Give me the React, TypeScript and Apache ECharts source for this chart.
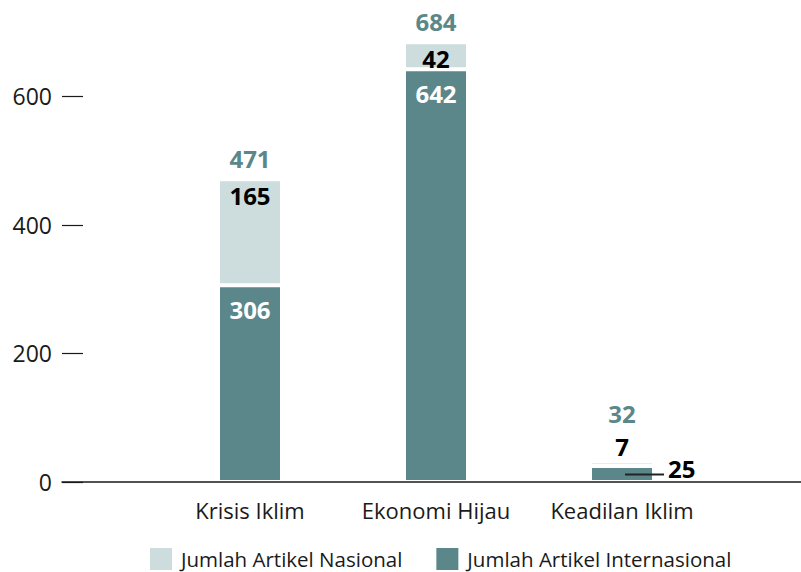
import React, { useEffect, useRef } from "react";
import * as echarts from "echarts";

const categories = ["Krisis Iklim", "Ekonomi Hijau", "Keadilan Iklim"];
const internasional = [306, 642, 25];
const nasional = [165, 42, 7];
const yTicks = [0, 200, 400, 600];
const legendNames = ["Jumlah Artikel Nasional", "Jumlah Artikel Internasional"];

const DARK = "#5b878b";
const LIGHT = "#cddcdd";
const INK = "#1a1a1a";
const FONT = "'Open Sans', 'Noto Sans', sans-serif";

export default function App() {
  const ref = useRef<HTMLDivElement>(null);

  useEffect(() => {
    if (!ref.current) return;
    const chart = echarts.init(ref.current, undefined, { renderer: "svg" });
    const totals = categories.map((_, i) => internasional[i] + nasional[i]);
    const lastIdx = categories.length - 1;

    const option: any = {
      animation: false,
      backgroundColor: "#ffffff",
      textStyle: { fontFamily: FONT },
      grid: [
        { left: 62, right: 0, top: 32, bottom: 90, containLabel: false },
        { left: 157, right: 86, top: 32, bottom: 90, containLabel: false },
      ],
      xAxis: [
        {
          gridIndex: 0,
          type: "value",
          min: 0,
          max: 1,
          z: 10,
          axisLine: { show: true, onZero: false, lineStyle: { color: INK, width: 1.5 } },
          axisTick: { show: false },
          axisLabel: { show: false },
          splitLine: { show: false },
        },
        {
          gridIndex: 1,
          type: "category",
          data: categories,
          axisLine: { show: false },
          axisTick: { show: false },
          axisLabel: { color: INK, fontSize: 22, margin: 17, fontFamily: FONT, interval: 0 },
          splitLine: { show: false },
        },
      ],
      yAxis: [
        {
          gridIndex: 0,
          type: "value",
          min: 0,
          max: 700,
          axisLine: { show: false },
          axisTick: {
            show: true,
            inside: true,
            length: 21,
            customValues: yTicks,
            lineStyle: { color: INK, width: 1.2 },
          },
          axisLabel: {
            color: INK,
            fontSize: 23,
            margin: 10,
            fontFamily: FONT,
            customValues: yTicks,
          },
          splitLine: { show: false },
        },
        {
          gridIndex: 1,
          type: "value",
          min: 0,
          max: 700,
          axisLine: { show: false },
          axisTick: { show: false },
          axisLabel: { show: false },
          splitLine: { show: false },
        },
      ],
      legend: {
        left: 148,
        top: 546,
        padding: 0,
        itemWidth: 24,
        itemHeight: 24,
        itemGap: 32,
        icon: "rect",
        data: legendNames,
        textStyle: {
          color: INK,
          fontSize: 20.5,
          lineHeight: 22,
          fontFamily: FONT,
          padding: [0, 0, 0, 3],
        },
      },
      series: [
        {
          name: legendNames[1],
          type: "bar",
          xAxisIndex: 1,
          yAxisIndex: 1,
          stack: "total",
          barWidth: 64,
          itemStyle: { color: DARK, borderColor: "#ffffff", borderWidth: 2 },
          label: {
            show: true,
            position: "insideTop",
            distance: 12,
            color: "#ffffff",
            fontSize: 24,
            fontWeight: "bold",
            fontFamily: FONT,
          },
          data: internasional.map((v, i) =>
            i === lastIdx
              ? {
                  value: v,
                  label: {
                    position: [35, 3],
                    align: "left",
                    verticalAlign: "middle",
                    distance: 0,
                    formatter: "{l| }{v|{c}}",
                    rich: {
                      l: {
                        width: 39,
                        height: 2,
                        backgroundColor: "#222222",
                        verticalAlign: "bottom",
                        fontSize: 2,
                      },
                      v: {
                        color: "#000000",
                        fontSize: 24,
                        fontWeight: "bold",
                        fontFamily: FONT,
                        lineHeight: 13,
                        padding: [0, 0, 0, 4],
                      },
                    },
                  },
                }
              : v
          ),
        },
        {
          name: legendNames[0],
          type: "bar",
          xAxisIndex: 1,
          yAxisIndex: 1,
          stack: "total",
          barWidth: 64,
          itemStyle: { color: LIGHT, borderColor: "#ffffff", borderWidth: 2 },
          label: {
            show: true,
            position: "insideTop",
            distance: 4,
            color: "#000000",
            fontSize: 24,
            fontWeight: "bold",
            fontFamily: FONT,
          },
          data: nasional.map((v, i) =>
            i === lastIdx ? { value: v, label: { position: "top", distance: 3 } } : v
          ),
        },
        {
          name: "Total",
          type: "bar",
          xAxisIndex: 1,
          yAxisIndex: 1,
          barWidth: 64,
          barGap: "-100%",
          silent: true,
          itemStyle: { color: "rgba(0,0,0,0)" },
          label: {
            show: true,
            position: "top",
            distance: 9,
            color: DARK,
            fontSize: 24,
            fontWeight: "bold",
            fontFamily: FONT,
          },
          data: totals.map((v, i) =>
            i === lastIdx ? { value: v, label: { distance: 36 } } : v
          ),
        },
      ],
    };

    chart.setOption(option);
    return () => {
      chart.dispose();
    };
  }, []);

  return (
    <div
      ref={ref}
      style={{ position: "fixed", left: 0, top: 0, width: 801, height: 572 }}
    />
  );
}
